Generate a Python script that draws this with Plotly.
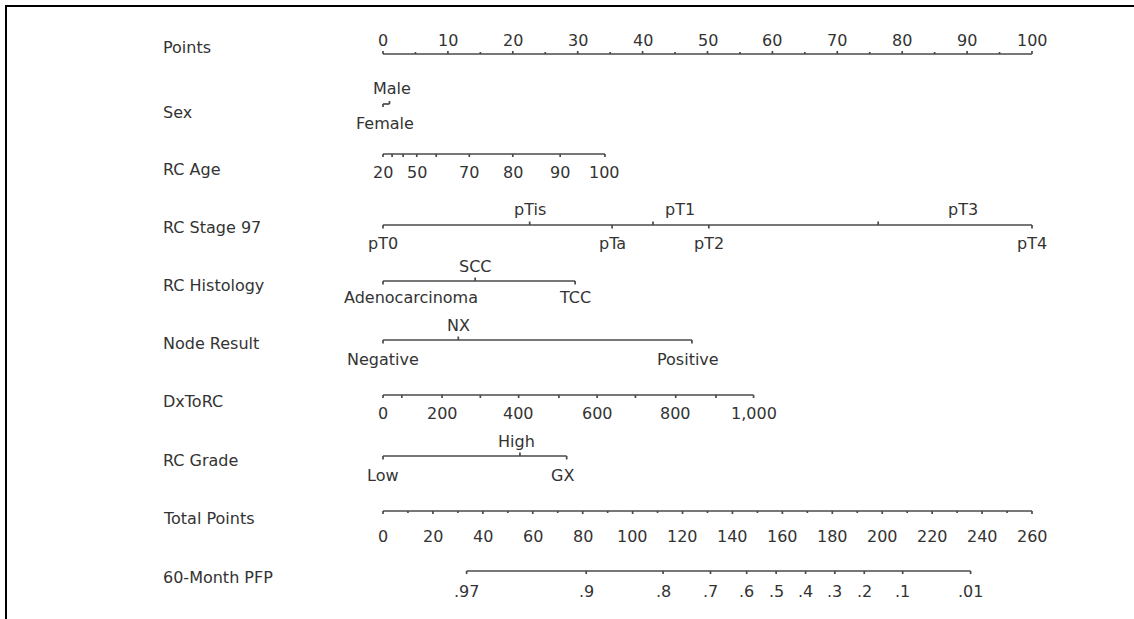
import plotly.graph_objects as go

# ---------------- nomogram data ----------------
row_names = ["Points", "Sex", "RC Age", "RC Stage 97", "RC Histology",
             "Node Result", "DxToRC", "RC Grade", "Total Points", "60-Month PFP"]

points_major = [0, 10, 20, 30, 40, 50, 60, 70, 80, 90, 100]
points_minor = [5, 15, 25, 35, 45, 55, 65, 75, 85, 95]

sex_levels = ["Male", "Female"]
sex_points = [1.0, 0.0]

age_values = [20, 30, 40, 50, 60, 70, 80, 90, 100]
age_points = [0.0, 1.4, 3.1, 5.2, 8.2, 13.3, 20.0, 27.3, 34.2]
age_shown = [20, 50, 70, 80, 90, 100]

stage_levels = ["pT0", "pTis", "pTa", "pT1", "pT2", "pT3", "pT4"]
stage_points = [0.0, 22.6, 35.3, 41.6, 50.2, 76.3, 100.0]

histology_levels = ["Adenocarcinoma", "SCC", "TCC"]
histology_points = [0.0, 14.2, 29.6]

node_levels = ["Negative", "NX", "Positive"]
node_points = [0.0, 11.6, 47.6]

dx_values = [0, 100, 200, 300, 400, 500, 600, 700, 800, 900, 1000]
dx_points = [0.0, 2.9, 9.1, 15.0, 20.9, 27.1, 33.0, 38.9, 45.1, 51.3, 57.1]
dx_shown = [0, 200, 400, 600, 800, 1000]

grade_levels = ["Low", "High", "GX"]
grade_points = [0.0, 21.1, 28.3]

total_max = 260
total_major = list(range(0, 261, 20))
total_minor = list(range(10, 260, 20))

pfp_labels = [".97", ".9", ".8", ".7", ".6", ".5", ".4", ".3", ".2", ".1", ".01"]
pfp_total = [33.5, 81.4, 112.2, 131.2, 145.7, 157.5, 169.3, 181.0, 192.8, 208.2, 235.4]

# ---------------- layout / style ----------------
W, H = 1134, 619
PX0, PX_PER_PT = 383.0, 6.49          # where 0 points sits and scale of the points axis
LINE_COLOR = "#4a4a4a"
TEXT_COLOR = "#333333"
FONT = dict(family="DejaVu Sans", size=16, color=TEXT_COLOR)

label_y = {"Points": 47, "Sex": 112, "RC Age": 169, "RC Stage 97": 227,
           "RC Histology": 285, "Node Result": 343, "DxToRC": 401,
           "RC Grade": 460, "Total Points": 518, "60-Month PFP": 577}
axis_y = {"Points": 54, "Sex": 104, "RC Age": 154, "RC Stage 97": 225,
          "RC Histology": 281, "Node Result": 340, "DxToRC": 395,
          "RC Grade": 456, "Total Points": 511, "60-Month PFP": 571}

# which side each category label goes, and any horizontal nudge (px)
side = {"pT0": 1, "pTis": -1, "pTa": 1, "pT1": -1, "pT2": 1, "pT3": -1, "pT4": 1,
        "Adenocarcinoma": 1, "SCC": -1, "TCC": 1,
        "Negative": 1, "NX": -1, "Positive": 1,
        "Low": 1, "High": -1, "GX": 1}
nudge = {"pT1": 27, "pT3": 85, "Adenocarcinoma": 28, "Positive": -4, "GX": -4, "High": -3}

xs, ys = [], []
annotations = []


def seg(x0, y0, x1, y1):
    xs.extend([x0, x1, None])
    ys.extend([y0, y1, None])


def text(x, y, s, xshift=0, xref="x", xanchor="center"):
    annotations.append(dict(x=x, y=y, xref=xref, yref="y", text=s, showarrow=False,
                            xanchor=xanchor, yanchor="middle", xshift=xshift, font=FONT))


def tp_to_pts(t):
    return t * 100.0 / total_max


# row titles
for name in row_names:
    text(161 / W, label_y[name], name, xref="paper", xanchor="left")

# Points axis: labels above, ticks upward
y = axis_y["Points"]
seg(points_major[0], y, points_major[-1], y)
for v in points_major:
    seg(v, y, v, y - 3)
    text(v, 40, str(v))
for v in points_minor:
    seg(v, y, v, y - 2)

# Sex: two levels almost on top of each other
y = axis_y["Sex"]
seg(sex_points[1], y, sex_points[0], y)
seg(sex_points[1], y, sex_points[1], y + 3)
seg(sex_points[0], y, sex_points[0], y - 3)
text(sex_points[0], 88, sex_levels[0], xshift=3)
text(sex_points[1], 123, sex_levels[1], xshift=2)

# RC Age: labels below, ticks downward
y = axis_y["RC Age"]
seg(age_points[0], y, age_points[-1], y)
for v, p in zip(age_values, age_points):
    seg(p, y, p, y + 3)
    if v in age_shown:
        text(p, 172, str(v))


def categorical(row, levels, pts, above_off, below_off):
    y = axis_y[row]
    seg(min(pts), y, max(pts), y)
    for lev, p in zip(levels, pts):
        s = side[lev]
        seg(p, y, p, y + 3.5 * s)
        ty = y + (below_off if s > 0 else above_off)
        text(p, ty, lev, xshift=nudge.get(lev, 0))


categorical("RC Stage 97", stage_levels, stage_points, -16, 18)
categorical("RC Histology", histology_levels, histology_points, -15, 16)
categorical("Node Result", node_levels, node_points, -15, 19)
categorical("RC Grade", grade_levels, grade_points, -15, 19)

# DxToRC: labels below, ticks downward
y = axis_y["DxToRC"]
seg(dx_points[0], y, dx_points[-1], y)
for v, p in zip(dx_values, dx_points):
    seg(p, y, p, y + 3)
    if v in dx_shown:
        text(p, 413, f"{v:,}")

# Total Points
y = axis_y["Total Points"]
seg(tp_to_pts(0), y, tp_to_pts(total_max), y)
for v in total_major:
    seg(tp_to_pts(v), y, tp_to_pts(v), y + 3)
    text(tp_to_pts(v), 536, str(v))
for v in total_minor:
    seg(tp_to_pts(v), y, tp_to_pts(v), y + 2)

# 60-month progression-free probability
y = axis_y["60-Month PFP"]
seg(tp_to_pts(pfp_total[0]), y, tp_to_pts(pfp_total[-1]), y)
for lab, t in zip(pfp_labels, pfp_total):
    seg(tp_to_pts(t), y, tp_to_pts(t), y + 3)
    text(tp_to_pts(t), 591, lab)

fig = go.Figure(go.Scatter(x=xs, y=ys, mode="lines", hoverinfo="skip",
                           line=dict(color=LINE_COLOR, width=1.7)))

# frame along the top and left edges
fig.add_shape(type="path", xref="paper", yref="y",
              path=f"M {6 / W} {H} L {6 / W} 6 L 1 6",
              line=dict(color="black", width=2))

fig.update_layout(
    width=W, height=H,
    margin=dict(l=0, r=0, t=0, b=0),
    paper_bgcolor="white", plot_bgcolor="white",
    showlegend=False,
    annotations=annotations,
    xaxis=dict(visible=False, range=[-PX0 / PX_PER_PT, (W - PX0) / PX_PER_PT]),
    yaxis=dict(visible=False, range=[H, 0]),
)

fig.write_html("out.html")
